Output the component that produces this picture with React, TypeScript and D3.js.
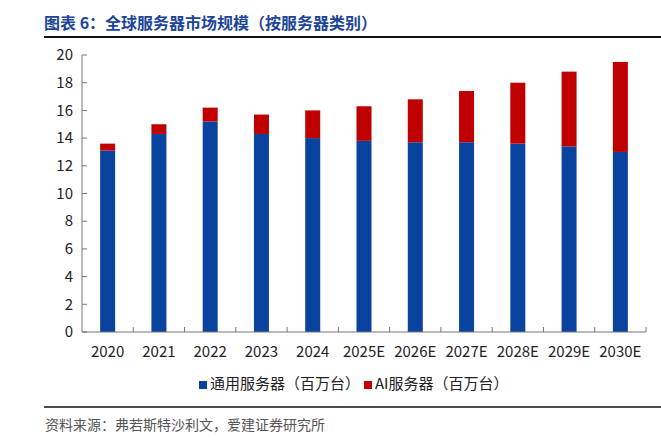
import React from 'react'
import * as d3 from 'd3'

const years = ['2020', '2021', '2022', '2023', '2024', '2025E', '2026E', '2027E', '2028E', '2029E', '2030E']
const generalServers = [13.1, 14.3, 15.2, 14.3, 14.0, 13.8, 13.7, 13.7, 13.6, 13.4, 13.0]
const aiServers = [0.5, 0.7, 1.0, 1.4, 2.0, 2.5, 3.1, 3.7, 4.4, 5.4, 6.5]
const yTicks = [0, 2, 4, 6, 8, 10, 12, 14, 16, 18, 20]

const seriesNames = ['通用服务器（百万台）', 'AI服务器（百万台）']
const colors = ['#0a42a0', '#c00000']

const W = 661
const H = 443
const margin = { left: 82, right: 15, top: 55, bottom: 111 }
const font = '"Noto Sans CJK SC", "Noto Sans", sans-serif'

const App: React.FC = () => {
  const x = d3.scaleBand<string>()
    .domain(years)
    .range([margin.left, W - margin.right])
  const y = d3.scaleLinear()
    .domain([0, 20])
    .range([H - margin.bottom, margin.top])

  const rows = years.map((yr, i) => ({ year: yr, general: generalServers[i], ai: aiServers[i] }))
  const stacked = d3.stack<typeof rows[number]>().keys(['general', 'ai'])(rows)

  const barW = 15
  const base = y(0)
  const boundaries = years.map(yr => (x(yr) as number) + x.bandwidth())

  return (
    <svg width={W} height={H} style={{ position: 'absolute', left: 0, top: 0, background: '#fff' }} fontFamily={font}>
      {/* title */}
      <text x={44} y={29} fontSize={16} fontWeight="bold" fill="#1d4597">图表 6：全球服务器市场规模（按服务器类别）</text>
      <line x1={44} x2={W} y1={37} y2={37} stroke="#111" strokeWidth={2} />

      {/* bars */}
      {stacked.map((layer, li) => (
        <g key={li} fill={colors[li]}>
          {layer.map((d, i) => (
            <rect
              key={i}
              x={(x(years[i]) as number) + x.bandwidth() / 2 - barW / 2}
              y={y(d[1])}
              width={barW}
              height={y(d[0]) - y(d[1])}
            />
          ))}
        </g>
      ))}

      {/* y axis */}
      <line x1={margin.left} x2={margin.left} y1={y(20)} y2={base} stroke="#777" />
      {yTicks.map(t => (
        <g key={t}>
          <line x1={margin.left} x2={margin.left + 5} y1={y(t)} y2={y(t)} stroke="#777" />
          <text x={73} y={y(t)} dy="0.35em" textAnchor="end" fontSize={15} fill="#222">{t}</text>
        </g>
      ))}

      {/* x axis */}
      <line x1={margin.left} x2={W - margin.right} y1={base} y2={base} stroke="#777" />
      {boundaries.map((bx, i) => (
        <line key={i} x1={bx} x2={bx} y1={base} y2={base - 5} stroke="#777" />
      ))}
      {years.map(yr => (
        <text key={yr} x={(x(yr) as number) + x.bandwidth() / 2} y={357} textAnchor="middle" fontSize={15} fill="#222">{yr}</text>
      ))}

      {/* legend */}
      <rect x={199} y={381} width={8} height={8} fill={colors[0]} />
      <text x={210} y={389} fontSize={15} fill="#222">{seriesNames[0]}</text>
      <rect x={364} y={381} width={8} height={8} fill={colors[1]} />
      <text x={375} y={389} fontSize={15} fill="#222">{seriesNames[1]}</text>

      {/* source */}
      <line x1={44} x2={W} y1={407} y2={407} stroke="#111" strokeWidth={1.5} />
      <text x={45} y={430} fontSize={14} fill="#555">资料来源：弗若斯特沙利文，爱建证券研究所</text>
    </svg>
  )
}

export default App
